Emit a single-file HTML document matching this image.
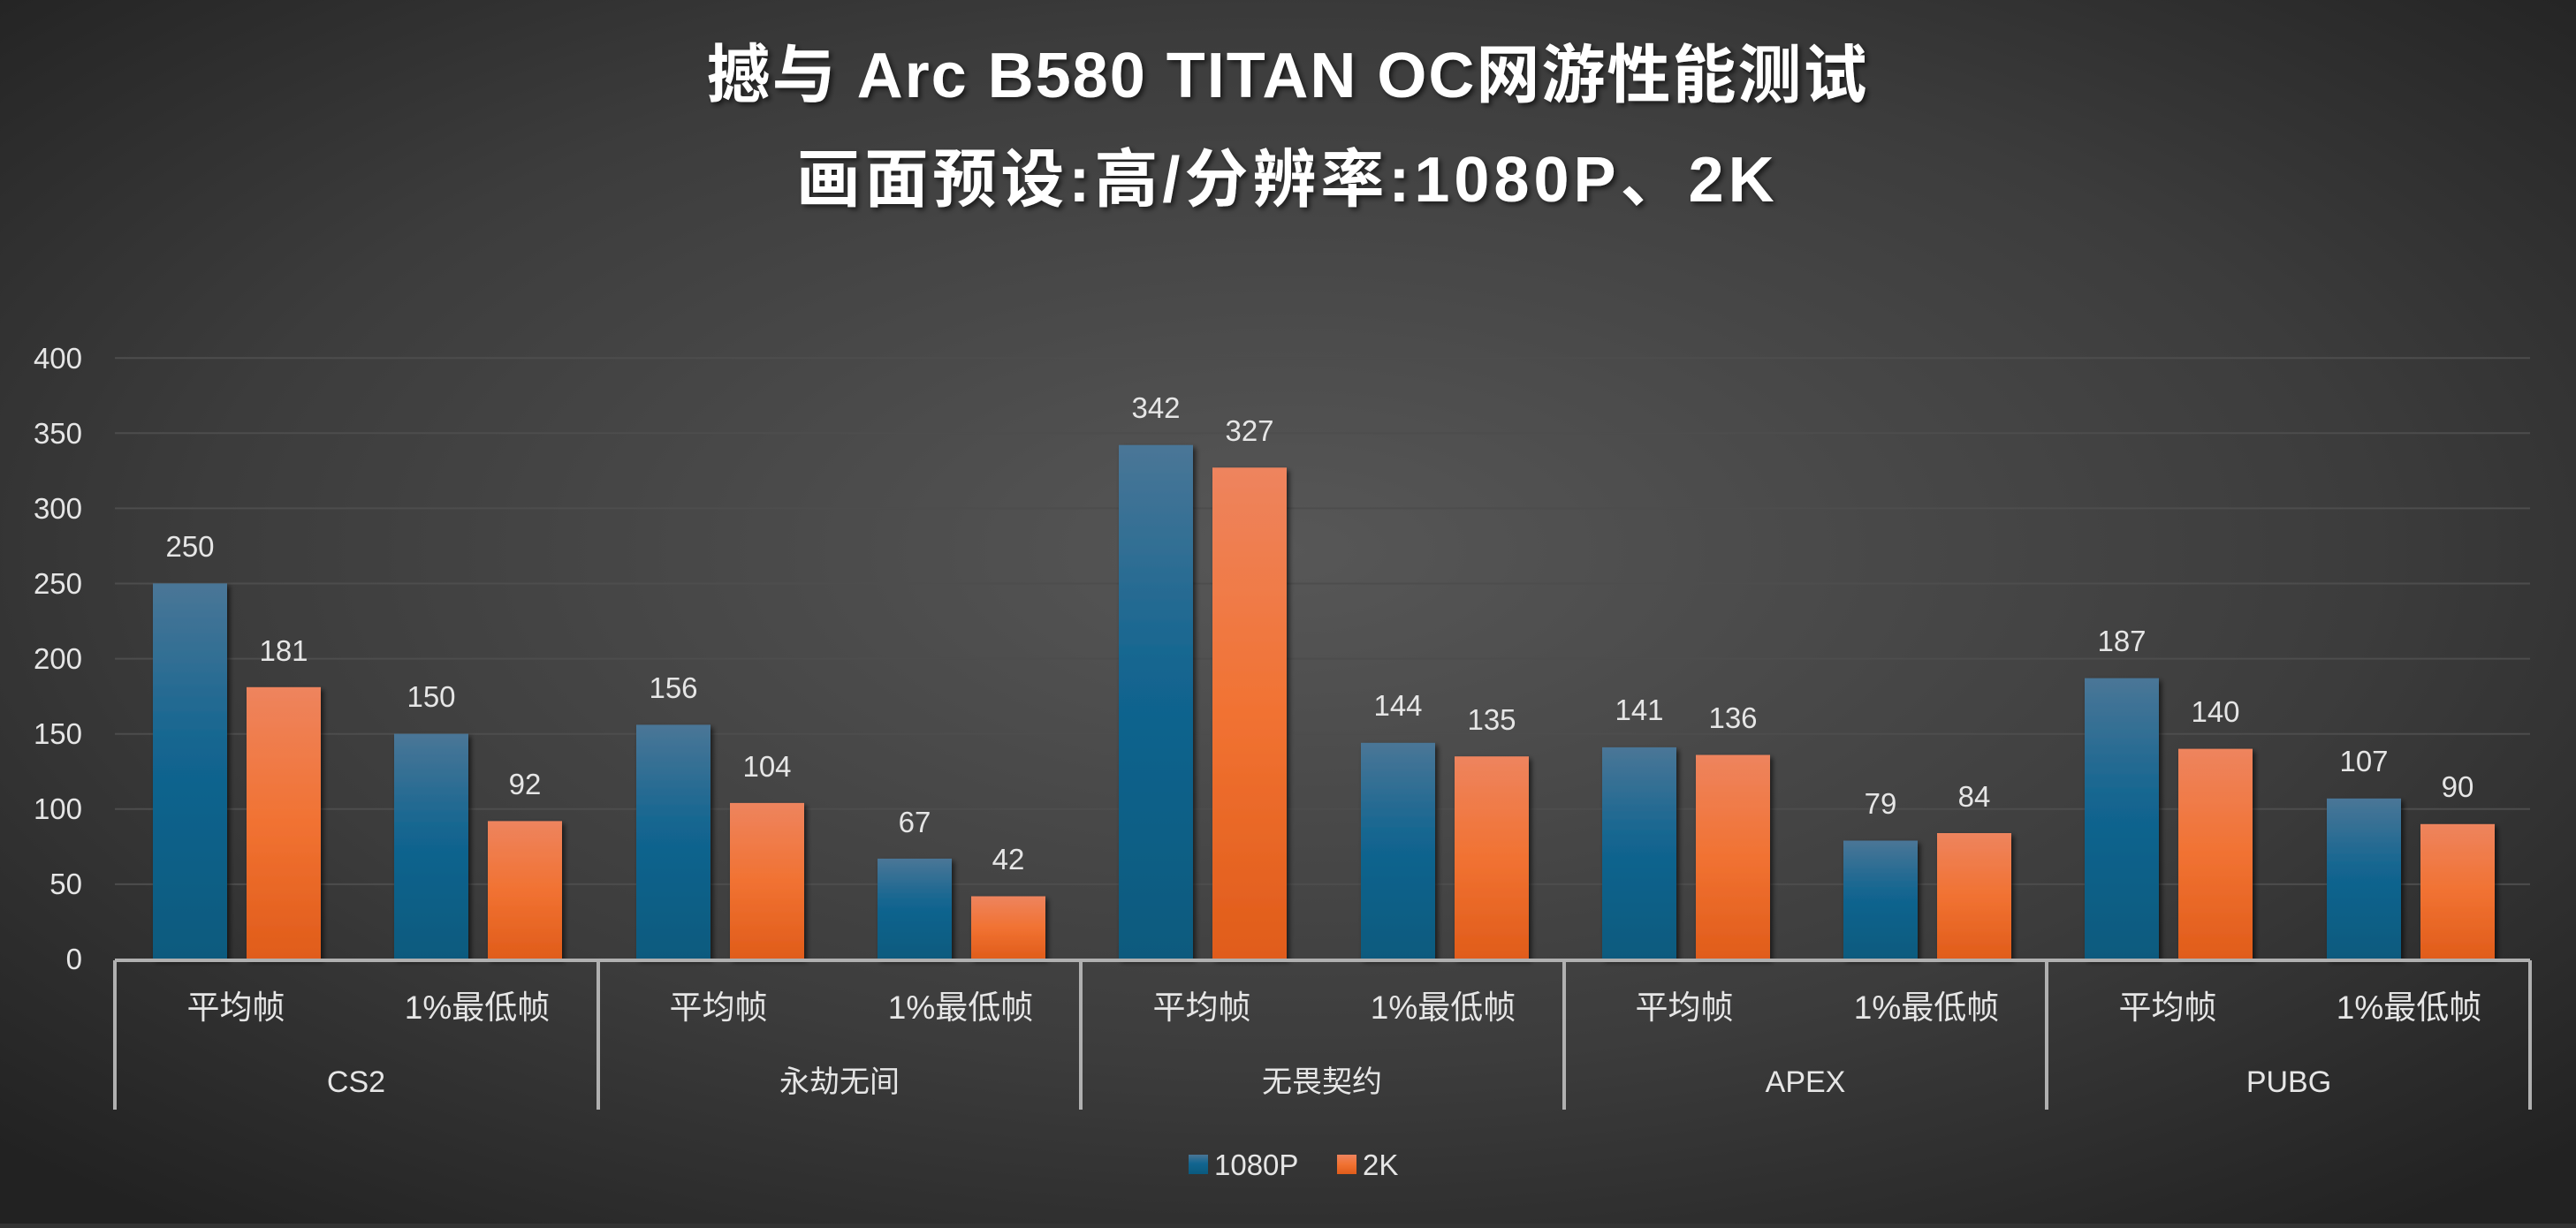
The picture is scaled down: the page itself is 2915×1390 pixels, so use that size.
<!DOCTYPE html>
<html><head><meta charset="utf-8"><style>
html,body{margin:0;padding:0;}
body{width:2915px;height:1385px;overflow:hidden;background:#333;}
svg text{font-family:"Liberation Sans","Noto Sans CJK SC",sans-serif;}
</style></head><body>
<svg width="2915" height="1385" viewBox="0 0 2915 1385" xmlns="http://www.w3.org/2000/svg">
<defs>
<radialGradient id="bg" cx="50%" cy="45%" r="70%">
<stop offset="0" stop-color="#575757"/><stop offset="0.6" stop-color="#3c3c3c"/><stop offset="1" stop-color="#222"/>
</radialGradient>
<linearGradient id="gb" x1="0" y1="0" x2="0" y2="1">
<stop offset="0" stop-color="#4a7697"/><stop offset="0.45" stop-color="#126590"/><stop offset="1" stop-color="#0a5a7e"/>
</linearGradient>
<linearGradient id="go" x1="0" y1="0" x2="0" y2="1">
<stop offset="0" stop-color="#ee845e"/><stop offset="0.5" stop-color="#f17232"/><stop offset="1" stop-color="#e05c1a"/>
</linearGradient>
<filter id="sh" x="-20%" y="-20%" width="140%" height="140%"><feDropShadow dx="3" dy="3" stdDeviation="3" flood-color="#000" flood-opacity="0.6"/></filter>
</defs>
<rect width="2915" height="1385" fill="url(#bg)"/>
<g fill="#fff" font-weight="bold" text-anchor="middle" filter="url(#sh)" font-size="72">
<text x="1457" y="110" letter-spacing="2">撼与 Arc B580 TITAN OC网游性能测试</text>
<text x="1457" y="228" letter-spacing="5">画面预设:高/分辨率:1080P、2K</text>
</g>
<g stroke="#4d4d4d" stroke-width="2">
<line x1="130" x2="2863" y1="1000.9" y2="1000.9"/><line x1="130" x2="2863" y1="915.8" y2="915.8"/>
<line x1="130" x2="2863" y1="830.7" y2="830.7"/><line x1="130" x2="2863" y1="745.6" y2="745.6"/>
<line x1="130" x2="2863" y1="660.5" y2="660.5"/><line x1="130" x2="2863" y1="575.4" y2="575.4"/>
<line x1="130" x2="2863" y1="490.3" y2="490.3"/><line x1="130" x2="2863" y1="405.2" y2="405.2"/>
</g>
<g fill="#e6e6e6" font-size="33" text-anchor="end">
<text x="93" y="1097">0</text><text x="93" y="1012">50</text><text x="93" y="927">100</text>
<text x="93" y="842">150</text><text x="93" y="757">200</text><text x="93" y="672">250</text>
<text x="93" y="587">300</text><text x="93" y="502">350</text><text x="93" y="417">400</text>
</g>
<g filter="url(#sh)">
<rect x="173" y="660.4" width="84" height="425.6" fill="url(#gb)"/><rect x="279" y="777.8" width="84" height="308.2" fill="url(#go)"/>
<rect x="446" y="830.6" width="84" height="255.4" fill="url(#gb)"/><rect x="552" y="929.4" width="84" height="156.6" fill="url(#go)"/>
<rect x="720" y="820.4" width="84" height="265.6" fill="url(#gb)"/><rect x="826" y="908.9" width="84" height="177.1" fill="url(#go)"/>
<rect x="993" y="971.9" width="84" height="114.1" fill="url(#gb)"/><rect x="1099" y="1014.5" width="84" height="71.5" fill="url(#go)"/>
<rect x="1266" y="503.7" width="84" height="582.3" fill="url(#gb)"/><rect x="1372" y="529.3" width="84" height="556.7" fill="url(#go)"/>
<rect x="1540" y="840.8" width="84" height="245.2" fill="url(#gb)"/><rect x="1646" y="856.2" width="84" height="229.8" fill="url(#go)"/>
<rect x="1813" y="845.9" width="84" height="240.1" fill="url(#gb)"/><rect x="1919" y="854.5" width="84" height="231.5" fill="url(#go)"/>
<rect x="2086" y="951.5" width="84" height="134.5" fill="url(#gb)"/><rect x="2192" y="943" width="84" height="143" fill="url(#go)"/>
<rect x="2359" y="767.6" width="84" height="318.4" fill="url(#gb)"/><rect x="2465" y="847.6" width="84" height="238.4" fill="url(#go)"/>
<rect x="2633" y="903.8" width="84" height="182.2" fill="url(#gb)"/><rect x="2739" y="932.8" width="84" height="153.2" fill="url(#go)"/>
</g>
<g fill="#e6e6e6" font-size="33" text-anchor="middle">
<text x="215" y="630">250</text><text x="321" y="748">181</text>
<text x="488" y="800">150</text><text x="594" y="899">92</text>
<text x="762" y="790">156</text><text x="868" y="879">104</text>
<text x="1035" y="942">67</text><text x="1141" y="984">42</text>
<text x="1308" y="473">342</text><text x="1414" y="499">327</text>
<text x="1582" y="810">144</text><text x="1688" y="826">135</text>
<text x="1855" y="815">141</text><text x="1961" y="824">136</text>
<text x="2128" y="921">79</text><text x="2234" y="913">84</text>
<text x="2401" y="737">187</text><text x="2507" y="817">140</text>
<text x="2675" y="873">107</text><text x="2781" y="902">90</text>
</g>
<line x1="130" x2="2863" y1="1087" y2="1087" stroke="#b0b0b0" stroke-width="4"/>
<g stroke="#b0b0b0" stroke-width="4">
<line x1="130" x2="130" y1="1087" y2="1256"/><line x1="677" x2="677" y1="1087" y2="1256"/>
<line x1="1223" x2="1223" y1="1087" y2="1256"/><line x1="1770" x2="1770" y1="1087" y2="1256"/>
<line x1="2316" x2="2316" y1="1087" y2="1256"/><line x1="2863" x2="2863" y1="1087" y2="1256"/>
</g>
<g fill="#e6e6e6" font-size="37" text-anchor="middle">
<text x="267" y="1153">平均帧</text><text x="540" y="1153">1%最低帧</text>
<text x="813" y="1153">平均帧</text><text x="1087" y="1153">1%最低帧</text>
<text x="1360" y="1153">平均帧</text><text x="1633" y="1153">1%最低帧</text>
<text x="1906" y="1153">平均帧</text><text x="2180" y="1153">1%最低帧</text>
<text x="2453" y="1153">平均帧</text><text x="2726" y="1153">1%最低帧</text>
</g>
<g fill="#e6e6e6" font-size="34" text-anchor="middle">
<text x="403" y="1236">CS2</text><text x="950" y="1236">永劫无间</text>
<text x="1496" y="1236">无畏契约</text><text x="2043" y="1236">APEX</text><text x="2590" y="1236">PUBG</text>
</g>
<rect x="1345" y="1307" width="22" height="22" fill="url(#gb)"/>
<text x="1374" y="1330" fill="#e6e6e6" font-size="33">1080P</text>
<rect x="1513" y="1307" width="22" height="22" fill="url(#go)"/>
<text x="1542" y="1330" fill="#e6e6e6" font-size="33">2K</text>
</svg>
</body></html>
